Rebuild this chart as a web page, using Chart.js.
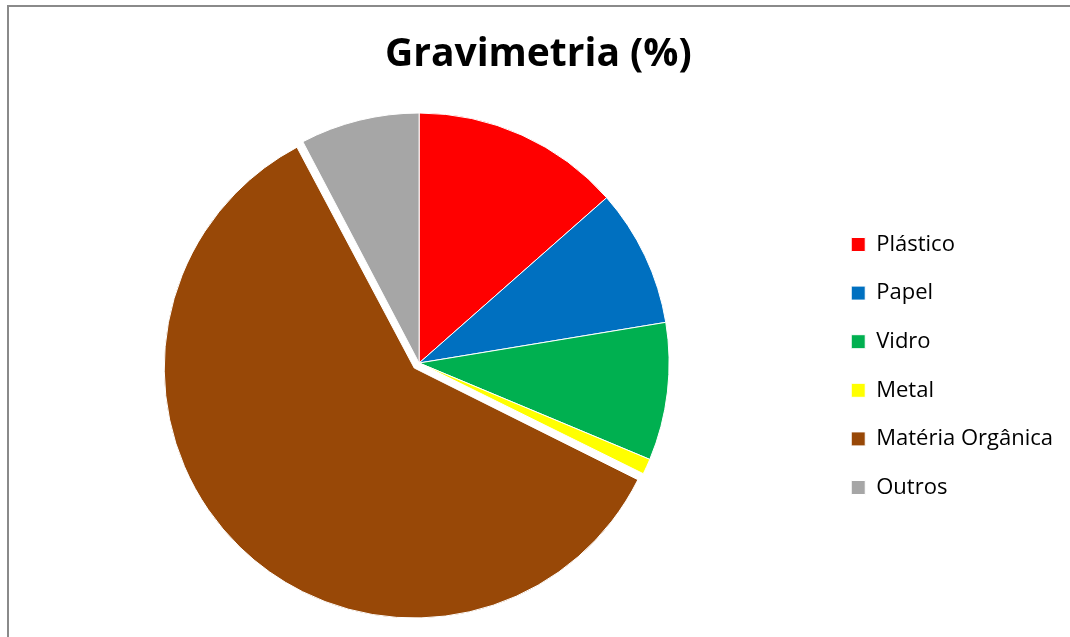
<!DOCTYPE html>
<html lang="pt">
<head>
<meta charset="utf-8">
<title>Gravimetria (%)</title>
<script src="https://cdn.jsdelivr.net/npm/chart.js"></script>
<style>
  html, body { margin: 0; padding: 0; background: #fff; }
  #wrap { position: relative; width: 1070px; height: 637px; overflow: hidden; }
  #frame {
    position: absolute; left: 7px; top: 5px; width: 1100px; height: 700px;
    border-left: 2px solid #8a8a8a; border-top: 2px solid #8a8a8a;
    pointer-events: none;
  }
  canvas { position: absolute; left: 0; top: 0; }
</style>
</head>
<body>
<div id="wrap">
  <canvas id="chart" width="1070" height="637"></canvas>
  <div id="frame"></div>
</div>
<script>
// dados
const categorias = ['Plástico', 'Papel', 'Vidro', 'Metal', 'Matéria Orgânica', 'Outros'];
const percentuais = [13.5, 8.9, 8.9, 1.0, 60.0, 7.7];

// cores de cada fatia
const cores = ['#ff0000', '#0070c0', '#00b050', '#ffff00', '#984807', '#a6a6a6'];

const DESTAQUE = 28; // v4 divide o offset por 4 -> ~7px

// fatias > 180° ganham raio extra com o offset; aqui o raio volta ao normal
const raioFixo = {
    id: 'raioFixo',
    afterDatasetsUpdate(chart) {
        chart.getDatasetMeta(0).data.forEach(arc => {
            if (arc.circumference >= Math.PI && arc.options.offset) {
                arc.outerRadius -= arc.options.offset / 4;
            }
        });
    }
};

const ctx = document.getElementById('chart').getContext('2d');

new Chart(ctx, {
    type: 'pie',
    data: {
        labels: categorias,
        datasets: [{
            data: percentuais,
            backgroundColor: cores,
            borderColor: '#ffffff',
            borderWidth: 1,
            // só a matéria orgânica fica destacada
            offset: [0, 0, 0, 0, DESTAQUE, 0]
        }]
    },
    plugins: [raioFixo],
    options: {
        responsive: false,
        animation: false,
        layout: { padding: { left: 13.6, right: 7, top: 0, bottom: 9.5 } },
        plugins: {
            title: {
                display: true,
                text: 'Gravimetria (%)',
                color: '#000',
                font: { family: 'Open Sans', size: 39, weight: 'bold' },
                padding: { top: 31.1, bottom: 20.6 }
            },
            legend: {
                position: 'right',
                align: 'center',
                fullSize: false,
                // título vazio só para descer a legenda uns 3px
                title: { display: true, text: ' ', padding: 0, font: { size: 5 } },
                labels: {
                    color: '#000',
                    font: { family: 'Open Sans', size: 22 },
                    boxWidth: 14,
                    boxHeight: 14,
                    padding: 26.6
                }
            },
            tooltip: { enabled: false }
        }
    }
});
</script>
</body>
</html>
